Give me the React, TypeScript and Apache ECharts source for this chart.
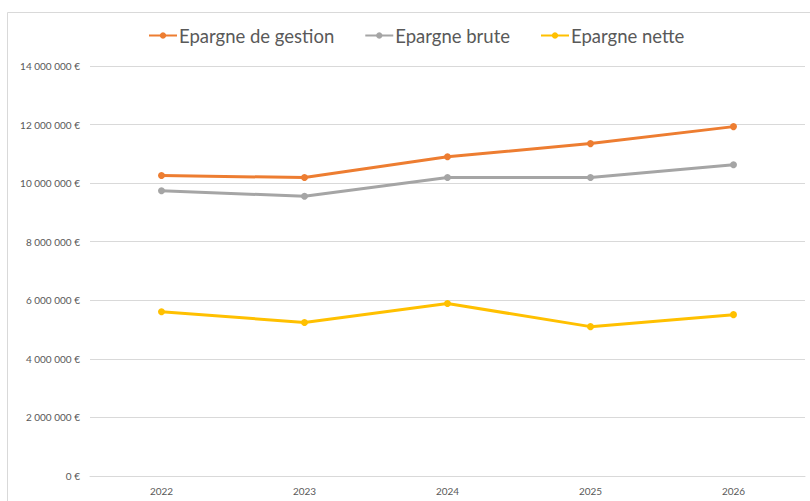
import React, { useEffect, useRef } from "react";
import * as echarts from "echarts";

const years = ["2022", "2023", "2024", "2025", "2026"];
const epargneGestion = [10260000, 10190000, 10900000, 11350000, 11930000];
const epargneBrute = [9740000, 9550000, 10190000, 10190000, 10630000];
const epargneNette = [5610000, 5240000, 5890000, 5100000, 5510000];
const seriesNames = ["Epargne de gestion", "Epargne brute", "Epargne nette"];
const colors = ["#ED7D31", "#A5A5A5", "#FFC000"];

function fmt(v: number): string {
  if (v === 0) return "0 €";
  const s = String(Math.round(v));
  return s.replace(/\B(?=(\d{3})+(?!\d))/g, " ") + " €";
}

export default function App() {
  const ref = useRef<HTMLDivElement>(null);
  useEffect(() => {
    if (!ref.current) return;
    const chart = echarts.init(ref.current, null, { renderer: "svg" });
    const data = [epargneGestion, epargneBrute, epargneNette];
    chart.setOption({
      animation: false,
      backgroundColor: "#ffffff",
      textStyle: { fontFamily: "Lato" },
      graphic: [
        {
          type: "polyline",
          shape: { points: [[7.5, 510], [7.5, 12.5], [820, 12.5]] },
          style: { stroke: "#D9D9D9", lineWidth: 1, fill: "none" },
          silent: true,
        },
      ],
      legend: {
        top: 21,
        left: 143,
        itemGap: 30,
        itemWidth: 28,
        itemHeight: 8,
        textStyle: { fontSize: 18.5, color: "#595959", fontFamily: "Lato", padding: [0, 0, 0, -3] },
        data: seriesNames,
      },
      grid: { left: 90, right: 5, top: 66, bottom: 25, containLabel: false },
      xAxis: {
        type: "category",
        data: years,
        boundaryGap: true,
        axisLine: { show: true, lineStyle: { color: "#D9D9D9" } },
        axisTick: { show: false },
        axisLabel: { color: "#595959", fontSize: 10, margin: 10 },
      },
      yAxis: {
        type: "value",
        min: 0,
        max: 14000000,
        interval: 2000000,
        axisLine: { show: false },
        axisTick: { show: false },
        axisLabel: { color: "#595959", fontSize: 10, margin: 10, formatter: (v: number) => fmt(v) },
        splitLine: { lineStyle: { color: "#D9D9D9", width: 1 } },
      },
      series: seriesNames.map((name, i) => ({
        name,
        type: "line",
        data: data[i],
        color: colors[i],
        symbol: "circle",
        symbolSize: 7,
        lineStyle: { width: 3, color: colors[i] },
        itemStyle: { color: colors[i] },
      })),
    });
    return () => chart.dispose();
  }, []);
  return (
    <div
      ref={ref}
      style={{ position: "fixed", left: 0, top: 0, width: 810, height: 501 }}
    />
  );
}
